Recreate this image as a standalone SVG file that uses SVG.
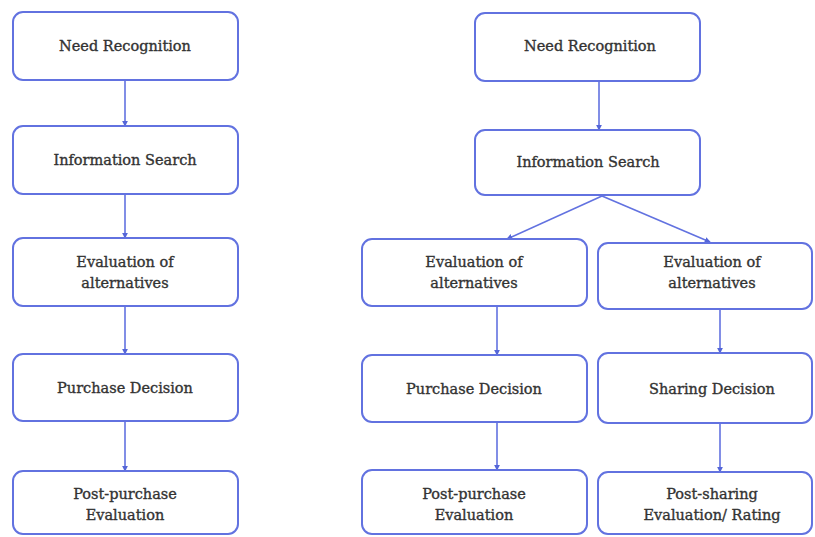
<svg xmlns="http://www.w3.org/2000/svg" width="815" height="537" viewBox="0 0 815 537">
<style>
.box{fill:#fff;stroke:#6272e0;stroke-width:2}
.t{font-family:"DejaVu Serif","Liberation Serif",serif;font-size:14.5px;fill:#333;stroke:#333;stroke-width:0.35;text-anchor:middle}
.c{stroke:#6272e0;stroke-width:1.6;fill:none;marker-end:url(#ah)}
</style>
<defs>
<marker id="ah" viewBox="0 0 8 8" refX="7" refY="4" markerWidth="6" markerHeight="6" markerUnits="userSpaceOnUse" orient="auto">
<path d="M0,0 L8,4 L0,8 z" fill="#5566d8"/>
</marker>
</defs>
<rect width="815" height="537" fill="#fff"/>
<g id="connectors">
<path class="c" d="M125,81 V126"/>
<path class="c" d="M125,195 V238"/>
<path class="c" d="M125,307 V354"/>
<path class="c" d="M125,422 V471"/>
<path class="c" d="M599,82 V130"/>
<path class="c" d="M602,196 L507,239"/>
<path class="c" d="M602,196 L710,242"/>
<path class="c" d="M497,307 V355"/>
<path class="c" d="M720,310 V353"/>
<path class="c" d="M497,423 V470"/>
<path class="c" d="M720,424 V472"/>
</g>
<g id="l1"><rect class="box" x="13" y="12" width="225" height="68" rx="10"/><text class="t" x="125" y="51">Need Recognition</text></g>
<g id="l2"><rect class="box" x="13" y="126" width="225" height="68" rx="10"/><text class="t" x="125" y="165">Information Search</text></g>
<g id="l3"><rect class="box" x="13" y="238" width="225" height="68" rx="10"/><text class="t" x="125" y="267">Evaluation of</text><text class="t" x="125" y="288">alternatives</text></g>
<g id="l4"><rect class="box" x="13" y="354" width="225" height="67" rx="10"/><text class="t" x="125" y="393">Purchase Decision</text></g>
<g id="l5"><rect class="box" x="13" y="471" width="225" height="63" rx="10"/><text class="t" x="125" y="499">Post-purchase</text><text class="t" x="125" y="520">Evaluation</text></g>
<g id="r1"><rect class="box" x="475" y="13" width="225" height="68" rx="10"/><text class="t" x="590" y="51">Need Recognition</text></g>
<g id="r2"><rect class="box" x="475" y="130" width="225" height="65" rx="10"/><text class="t" x="588" y="167">Information Search</text></g>
<g id="r3"><rect class="box" x="362" y="239" width="225" height="67" rx="10"/><text class="t" x="474" y="267">Evaluation of</text><text class="t" x="474" y="288">alternatives</text></g>
<g id="r4"><rect class="box" x="598" y="243" width="214" height="66" rx="10"/><text class="t" x="712" y="267">Evaluation of</text><text class="t" x="712" y="288">alternatives</text></g>
<g id="r5"><rect class="box" x="362" y="355" width="225" height="67" rx="10"/><text class="t" x="474" y="394">Purchase Decision</text></g>
<g id="r6"><rect class="box" x="598" y="353" width="214" height="70" rx="10"/><text class="t" x="712" y="394">Sharing Decision</text></g>
<g id="r7"><rect class="box" x="362" y="470" width="225" height="64" rx="10"/><text class="t" x="474" y="499">Post-purchase</text><text class="t" x="474" y="520">Evaluation</text></g>
<g id="r8"><rect class="box" x="598" y="472" width="214" height="62" rx="10"/><text class="t" x="712" y="499">Post-sharing</text><text class="t" x="712" y="520">Evaluation/ Rating</text></g>
</svg>
